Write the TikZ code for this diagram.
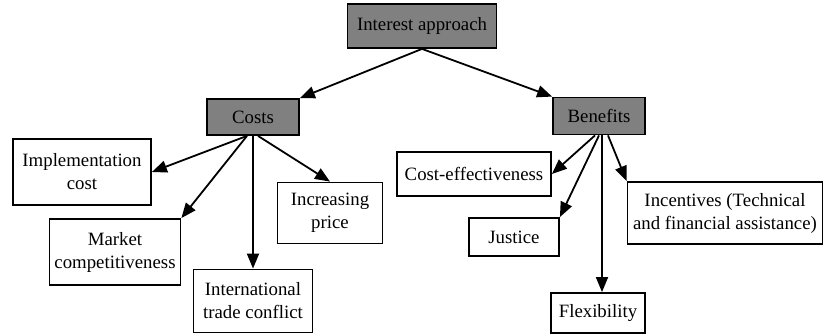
\documentclass[tikz,border=0pt]{standalone}
\usepackage{fontspec}
\setmainfont{Liberation Serif}
\usepackage{xcolor}
\usepackage{tikz}
\usetikzlibrary{positioning,calc,arrows.meta}

\tikzset{
    box/.style={draw, line width=1.8pt, inner sep=0pt, align=center, font=\fontsize{18.8}{23}\selectfont},
    headbox/.style={box, fill=black!50},
    arr/.style={line width=1.8pt, -{Triangle[length=15pt,width=12pt]}}
}

\begin{document}
\begin{tikzpicture}[x=1pt, y=-1pt]
    \useasboundingbox (0,0) rectangle (823,336);

    % top and the two branches
    \node[headbox, minimum width=149pt, minimum height=44pt] (interest) at (422,26) {Interest approach};
    \node[headbox, minimum width=92pt, minimum height=36pt] (costs) at (253,117) {Costs};
    \node[headbox, minimum width=92pt, minimum height=37pt] (benefits) at (599,116) {Benefits};

    % costs side
    \node[box, minimum width=138pt, minimum height=66pt] (impl) at (82,172) {Implementation\\cost};
    \node[box, minimum width=131pt, minimum height=66pt] (market) at (115,252) {Market\\competitiveness};
    \node[box, minimum width=119pt, minimum height=63pt] (trade) at (253,301) {International\\trade conflict};
    \node[box, minimum width=105pt, minimum height=61pt] (price) at (330,213) {Increasing\\price};

    % benefits side
    \node[box, minimum width=154pt, minimum height=44pt] (costeff) at (474,174) {Cost-effectiveness};
    \node[box, minimum width=90pt, minimum height=38pt] (justice) at (514,237) {Justice};
    \node[box, minimum width=195pt, minimum height=62pt] (incent) at (725,213) {Incentives (Technical\\and financial assistance)};
    \node[box, minimum width=94pt, minimum height=40pt] (flex) at (598,313) {Flexibility};

    \draw[arr] (interest.south) -- (costs.north east);
    \draw[arr] (interest.south) -- (benefits.north west);

    \draw[arr] ([xshift=-6pt]costs.south) -- (impl.east);
    \draw[arr] ([xshift=-6pt]costs.south) -- (market.north east);
    \draw[arr] (costs.south) -- (trade.north);
    \draw[arr] ([xshift=5pt]costs.south) -- (price.north);

    \draw[arr] ([xshift=-4pt]benefits.south) -- (costeff.east);
    \draw[arr] (benefits.south) -- (justice.north east);
    \draw[arr] ([xshift=3pt]benefits.south) -- ([xshift=4pt]flex.north);
    \draw[arr] ([xshift=9pt]benefits.south) -- (incent.north west);
\end{tikzpicture}
\end{document}
